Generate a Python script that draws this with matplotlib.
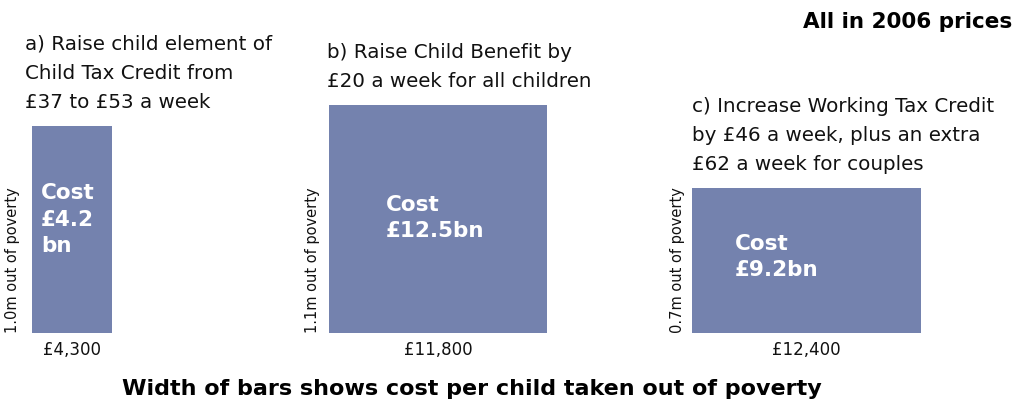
import matplotlib.pyplot as plt

plt.rcParams['font.family'] = ['DejaVu Sans']

# three policy options: width = cost per child lifted out of poverty (GBP),
# height = children lifted out of poverty (millions)
options = [
    "a) Raise child element of\nChild Tax Credit from\n£37 to £53 a week",
    "b) Raise Child Benefit by\n£20 a week for all children",
    "c) Increase Working Tax Credit\nby £46 a week, plus an extra\n£62 a week for couples",
]
cost_per_child = [4300, 11800, 12400]
children_m = [1.0, 1.1, 0.7]
total_cost = ["Cost\n£4.2\nbn", "Cost\n£12.5bn", "Cost\n£9.2bn"]
width_labels = ["£4,300", "£11,800", "£12,400"]
height_labels = ["1.0m out of poverty", "1.1m out of poverty", "0.7m out of poverty"]

BAR_COLOR = '#7482ae'
W, H = 1020, 400
PX_PER_POUND = 0.0185
PX_PER_MILLION = 207
BASE_PX = 67            # baseline height above bottom edge, in pixels
left_px = [32, 329, 692]
text_dx = [-7, -2, 0]       # option text offset from bar's left edge
cost_dx = [9, 57, 43]       # offset of the cost text inside each bar
cost_dy = [10, 1, 4]
label_gap = [12, 9, 7]      # gap between rotated label and bar

fig = plt.figure(figsize=(W / 100, H / 100), dpi=100)
ax = fig.add_axes([0, 0, 1, 1])
ax.set_xlim(0, W / PX_PER_POUND)
ax.set_ylim(-BASE_PX / PX_PER_MILLION, (H - BASE_PX) / PX_PER_MILLION)
ax.axis('off')

px = 1 / PX_PER_POUND
py = 1 / PX_PER_MILLION
lefts = [l * px for l in left_px]
ax.bar(lefts, children_m, width=cost_per_child, align='edge', color=BAR_COLOR)

for i in range(3):
    x0 = lefts[i]
    w = cost_per_child[i]
    h = children_m[i]
    # option description above the bar
    ax.text(x0 + text_dx[i] * px, h + 14 * py, options[i], ha='left', va='bottom',
            fontsize=14.3, linespacing=1.68, color='#111111')
    # total cost inside the bar
    ax.text(x0 + cost_dx[i] * px, h / 2 + cost_dy[i] * py, total_cost[i],
            ha='left', va='center', fontsize=15.5, fontweight='bold',
            color='white', linespacing=1.38)
    # width and height labels
    ax.text(x0 + w / 2, -8 * py, width_labels[i], ha='center', va='top',
            fontsize=12, color='#111111')
    ax.text(x0 - label_gap[i] * px, 0, height_labels[i], ha='left', va='bottom',
            rotation=90, fontsize=10.5, color='#111111', rotation_mode='anchor')

fig.text(1012 / W, 1 - 22 / H, "All in 2006 prices", ha='right', va='center',
         fontsize=15.5, fontweight='bold')
fig.text(472 / W, 1 - 389 / H, "Width of bars shows cost per child taken out of poverty",
         ha='center', va='center', fontsize=16, fontweight='bold')

fig.savefig('out.png', dpi=100)
